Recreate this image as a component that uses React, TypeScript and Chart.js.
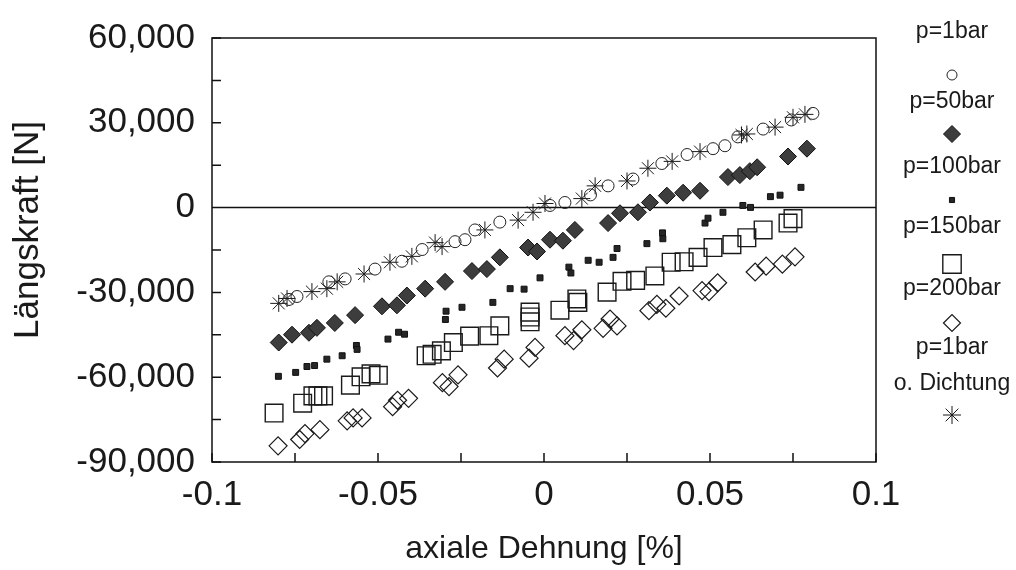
import React, { useEffect, useRef } from 'react';
import { Chart, registerables } from 'chart.js';

Chart.register(...registerables);

const FONT = '"Liberation Sans", Arial, Helvetica, sans-serif';
const INK = '#1a1a1a';

// ---- tick labels ----
const xTickLabels = ['-0.1', '-0.05', '0', '0.05', '0.1'];
const yTickLabels = ['-90,000', '-60,000', '-30,000', '0', '30,000', '60,000'];

// ---- series labels ----
const seriesLabels = ['p=1bar', 'p=50bar', 'p=100bar', 'p=150bar', 'p=200bar', 'p=1bar\no. Dichtung'];

// ---- p=1bar (open circles) ----
const p1X = [-0.0768, -0.0744, -0.0648, -0.0599, -0.0509, -0.0428, -0.0367, -0.0268, -0.0238, -0.0208, -0.0133, 0.0018, 0.0063, 0.014, 0.0193, 0.0268, 0.0355, 0.0431, 0.0509, 0.0545, 0.0584, 0.066, 0.0745, 0.081];
const p1Y = [-32500, -31450, -26260, -25220, -21750, -18980, -14830, -12050, -11360, -7900, -5130, 760, 1800, 4500, 7690, 10110, 15600, 18780, 20850, 21890, 25010, 27780, 31000, 33320];

// ---- p=50bar (filled diamonds) ----
const p50X = [-0.0799, -0.0759, -0.0708, -0.0684, -0.063, -0.0569, -0.0488, -0.0443, -0.0413, -0.0358, -0.0298, -0.0217, -0.0172, -0.0133, -0.0048, -0.0021, 0.0018, 0.0057, 0.0093, 0.0193, 0.0229, 0.0283, 0.0319, 0.037, 0.0419, 0.047, 0.0554, 0.059, 0.062, 0.0642, 0.0735, 0.0792];
const p50Y = [-47730, -44960, -44270, -42540, -40810, -38040, -34920, -34570, -31110, -28680, -26260, -22450, -21750, -17600, -14130, -15520, -11360, -11710, -7900, -5470, -2010, -1660, 1800, 4230, 5270, 5960, 10810, 11500, 12890, 14270, 18080, 20850];

// ---- p=100bar (small filled squares) ----
const p100X = [-0.08, -0.0748, -0.0714, -0.0691, -0.0654, -0.0608, -0.0565, -0.0563, -0.047, -0.0438, -0.042, -0.0295, -0.0297, -0.0247, -0.0154, -0.0102, -0.006, -0.0012, 0.0075, 0.0081, 0.0133, 0.0166, 0.0208, 0.022, 0.031, 0.0357, 0.0358, 0.0485, 0.0494, 0.0539, 0.0599, 0.0622, 0.0682, 0.0711, 0.0774];
const p100Y = [-59690, -58300, -56220, -55880, -53620, -52410, -48770, -50160, -46520, -44100, -44790, -36650, -39590, -35260, -33530, -28680, -28850, -24850, -21060, -23140, -18640, -19330, -17600, -14480, -12750, -8940, -11020, -5470, -3740, -1660, 760, 70, 3880, 4400, 7170];

// ---- p=150bar (open squares) ----
const p150X = [-0.0813, -0.0727, -0.0696, -0.0681, -0.0664, -0.0583, -0.0551, -0.0521, -0.0499, -0.0355, -0.0337, -0.0309, -0.0273, -0.0224, -0.0166, -0.0133, -0.0042, -0.0042, -0.0042, 0.0048, 0.0099, 0.0102, 0.019, 0.0235, 0.0276, 0.0334, 0.0383, 0.0422, 0.0464, 0.0509, 0.0566, 0.0611, 0.066, 0.0735, 0.075];
const p150Y = [-72680, -69210, -66610, -66610, -66610, -62800, -59860, -58820, -59340, -52410, -51890, -50680, -47730, -45480, -45310, -41850, -36990, -38700, -40400, -36300, -32320, -33530, -29890, -26080, -25740, -24180, -19330, -19160, -17600, -14130, -13090, -10670, -7900, -5470, -3910];

// ---- p=200bar (open diamonds) ----
const p200X = [-0.0801, -0.0736, -0.072, -0.0675, -0.0593, -0.0575, -0.0548, -0.0456, -0.0441, -0.0408, -0.0306, -0.0286, -0.0259, -0.014, -0.012, -0.0045, -0.0027, 0.0063, 0.0089, 0.0114, 0.0178, 0.0199, 0.022, 0.0316, 0.034, 0.0367, 0.0407, 0.0476, 0.0497, 0.0523, 0.0636, 0.0669, 0.0718, 0.0756];
const p200Y = [-84280, -82030, -79950, -78560, -75450, -74410, -74410, -70420, -68170, -67480, -61940, -63320, -59170, -56740, -53620, -53270, -49460, -45310, -47040, -43230, -42710, -39420, -41850, -36470, -34220, -35610, -31280, -29370, -29720, -26600, -22790, -20710, -20020, -17420];

// ---- p=1bar o. Dichtung (stars) ----
const odX = [-0.0799, -0.0774, -0.0699, -0.0654, -0.0623, -0.0542, -0.0464, -0.0398, -0.0328, -0.0307, -0.0178, -0.0078, -0.0033, 0.0003, 0.0114, 0.0154, 0.025, 0.0313, 0.0386, 0.047, 0.0595, 0.0611, 0.0696, 0.075, 0.0786];
const odY = [-33880, -32150, -29720, -28680, -26260, -23490, -19330, -17250, -12400, -13790, -7900, -4430, -1660, 1450, 3190, 7690, 9420, 13930, 16350, 19810, 25700, 26050, 28470, 31940, 32980];

const pts = (xs: number[], ys: number[]) => xs.map((x, i) => ({ x, y: ys[i] }));

type Marker = { style: string; r: number; fill: string; stroke: string; lw: number };

const markers: Marker[] = [
  { style: 'circle', r: 6, fill: 'rgba(0,0,0,0)', stroke: '#222', lw: 1 },
  { style: 'rectRot', r: 8.5, fill: '#3d3d3d', stroke: '#111', lw: 1 },
  { style: 'rect', r: 4.2, fill: '#262626', stroke: '#111', lw: 1 },
  { style: 'rect', r: 12.5, fill: 'rgba(0,0,0,0)', stroke: '#1a1a1a', lw: 1.4 },
  { style: 'rectRot', r: 9, fill: 'rgba(0,0,0,0)', stroke: '#1a1a1a', lw: 1.2 },
  { style: 'star', r: 8.5, fill: 'rgba(0,0,0,0)', stroke: '#1a1a1a', lw: 1 },
];

const legendMarkers: Marker[] = [
  { style: 'circle', r: 5, fill: 'rgba(0,0,0,0)', stroke: '#222', lw: 1 },
  { style: 'rectRot', r: 8.5, fill: '#3d3d3d', stroke: '#111', lw: 1 },
  { style: 'rect', r: 3.6, fill: '#262626', stroke: '#111', lw: 1 },
  { style: 'rect', r: 13, fill: 'rgba(0,0,0,0)', stroke: '#1a1a1a', lw: 1.4 },
  { style: 'rectRot', r: 8.5, fill: 'rgba(0,0,0,0)', stroke: '#1a1a1a', lw: 1.2 },
  { style: 'star', r: 9, fill: 'rgba(0,0,0,0)', stroke: '#1a1a1a', lw: 1 },
];

function drawMarker(ctx: CanvasRenderingContext2D, m: Marker, x: number, y: number) {
  ctx.save();
  ctx.fillStyle = m.fill;
  ctx.strokeStyle = m.stroke;
  ctx.lineWidth = m.lw;
  ctx.beginPath();
  if (m.style === 'circle') {
    ctx.arc(x, y, m.r, 0, Math.PI * 2);
    ctx.fill();
    ctx.stroke();
  } else if (m.style === 'rectRot') {
    ctx.moveTo(x - m.r, y);
    ctx.lineTo(x, y - m.r);
    ctx.lineTo(x + m.r, y);
    ctx.lineTo(x, y + m.r);
    ctx.closePath();
    ctx.fill();
    ctx.stroke();
  } else if (m.style === 'rect') {
    const h = m.r * Math.SQRT1_2;
    ctx.rect(x - h, y - h, 2 * h, 2 * h);
    ctx.fill();
    ctx.stroke();
  } else {
    for (let k = 0; k < 4; k++) {
      const a = (k * Math.PI) / 4;
      ctx.moveTo(x - Math.cos(a) * m.r, y - Math.sin(a) * m.r);
      ctx.lineTo(x + Math.cos(a) * m.r, y + Math.sin(a) * m.r);
    }
    ctx.stroke();
  }
  ctx.restore();
}

const legendTextY = [[32], [102], [167], [227], [289], [348, 384]];
const legendMarkerY = [75, 134, 200, 264, 323, 415];

const framePlugin = {
  id: 'frame',
  beforeDatasetsDraw(chart: any) {
    const { ctx, chartArea, scales } = chart;
    const { left, right, top, bottom } = chartArea;
    ctx.save();
    ctx.strokeStyle = '#111';
    ctx.lineWidth = 1.5;
    ctx.strokeRect(left, top, right - left, bottom - top);
    const y0 = scales.y.getPixelForValue(0);
    ctx.beginPath();
    ctx.moveTo(left, y0);
    ctx.lineTo(right, y0);
    scales.x.ticks.forEach((t: any) => {
      const px = scales.x.getPixelForValue(t.value);
      ctx.moveTo(px, bottom);
      ctx.lineTo(px, bottom - 9);
    });
    scales.y.ticks.forEach((t: any) => {
      const py = scales.y.getPixelForValue(t.value);
      ctx.moveTo(left, py);
      ctx.lineTo(left + 9, py);
    });
    ctx.stroke();
    ctx.restore();
  },
  afterDraw(chart: any) {
    const { ctx } = chart;
    ctx.save();
    // y axis title
    ctx.fillStyle = INK;
    ctx.font = `35px ${FONT}`;
    ctx.textAlign = 'center';
    ctx.textBaseline = 'middle';
    ctx.translate(28, 230);
    ctx.rotate(-Math.PI / 2);
    ctx.fillText('Längskraft [N]', 0, 0);
    ctx.restore();
    // legend
    ctx.save();
    ctx.fillStyle = INK;
    ctx.font = `23px ${FONT}`;
    ctx.textAlign = 'center';
    ctx.textBaseline = 'middle';
    chart.data.datasets.forEach((ds: any, i: number) => {
      const lines = String(ds.label).split('\n');
      lines.forEach((ln: string, j: number) => ctx.fillText(ln, 952, legendTextY[i][j]));
      drawMarker(ctx, legendMarkers[i], 952, legendMarkerY[i]);
    });
    ctx.restore();
  },
};

export default function App() {
  const ref = useRef<HTMLCanvasElement>(null);
  useEffect(() => {
    document.body.style.margin = '0';
    const series = [pts(p1X, p1Y), pts(p50X, p50Y), pts(p100X, p100Y), pts(p150X, p150Y), pts(p200X, p200Y), pts(odX, odY)];
    const chart = new Chart(ref.current as HTMLCanvasElement, {
      type: 'scatter',
      data: {
        datasets: series.map((d, i) => ({
          label: seriesLabels[i],
          data: d,
          showLine: false,
          pointStyle: markers[i].style as any,
          pointRadius: markers[i].r,
          pointHoverRadius: markers[i].r,
          pointBackgroundColor: markers[i].fill,
          pointBorderColor: markers[i].stroke,
          pointBorderWidth: markers[i].lw,
        })),
      },
      options: {
        animation: false,
        responsive: false,
        layout: { padding: { left: 0, top: 29, right: 140, bottom: 0 } },
        plugins: { legend: { display: false }, tooltip: { enabled: false } },
        scales: {
          x: {
            type: 'linear',
            min: -0.1,
            max: 0.1,
            grid: { display: false, drawTicks: false },
            border: { display: false },
            afterFit: (s: any) => { s.height = 108; },
            ticks: {
              stepSize: 0.025,
              autoSkip: false,
              maxRotation: 0,
              padding: 12,
              color: INK,
              font: { family: FONT, size: 35 },
              callback: (v: any) => {
                const k = Math.round(Number(v) * 1000);
                if (k % 50 !== 0) return '';
                return xTickLabels[(k + 100) / 50];
              },
            },
            title: {
              display: true,
              text: 'axiale Dehnung [%]',
              color: INK,
              font: { family: FONT, size: 32 },
              padding: { top: 0, bottom: 2 },
            },
          },
          y: {
            type: 'linear',
            min: -90000,
            max: 60000,
            grid: { display: false, drawTicks: false },
            border: { display: false },
            afterFit: (s: any) => { s.width = 212; },
            ticks: {
              stepSize: 15000,
              autoSkip: false,
              padding: 17,
              color: INK,
              font: { family: FONT, size: 35 },
              callback: (v: any) => {
                const n = Math.round(Number(v));
                if (n % 30000 !== 0) return '';
                return yTickLabels[(n + 90000) / 30000];
              },
            },
          },
        },
      },
      plugins: [framePlugin],
    });
    return () => chart.destroy();
  }, []);
  return (
    <div style={{ width: 1016, height: 570 }}>
      <canvas ref={ref} width={1016} height={570} />
    </div>
  );
}
